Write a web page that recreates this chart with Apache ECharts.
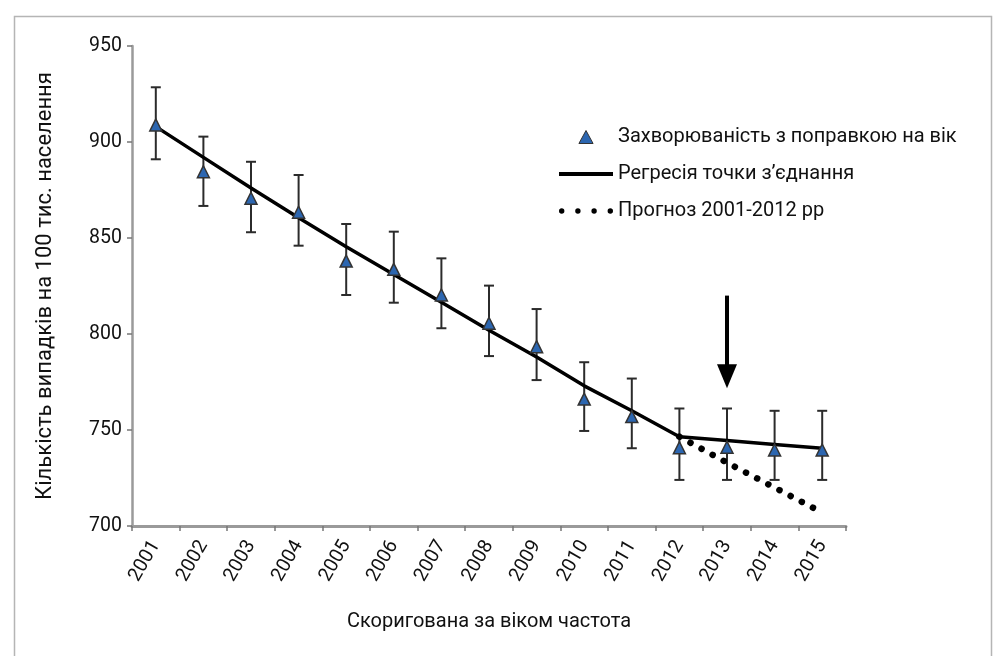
<!DOCTYPE html>
<html>
<head>
<meta charset="utf-8">
<script src="https://cdn.jsdelivr.net/npm/echarts@6/dist/echarts.min.js"></script>
<style>
html,body{margin:0;padding:0;background:#fff;}
#chart{width:995px;height:656px;}
</style>
</head>
<body>
<div id="chart"></div>
<script>
const years = ['2001','2002','2003','2004','2005','2006','2007','2008','2009','2010','2011','2012','2013','2014','2015'];
const incidence = [908.9, 884.5, 870.7, 863.4, 838, 833.7, 820.3, 805.6, 793.4, 766.1, 757, 740.8, 741, 739.6, 739.6];
const ciLow  = [891, 866.7, 853, 846, 820.3, 816.3, 803, 788.5, 776, 749.5, 740.5, 724, 724, 724, 724];
const ciHigh = [928.5, 902.8, 889.7, 882.8, 857.3, 853.3, 839.4, 825.2, 813, 785.3, 776.8, 761.2, 761.2, 760, 760];
const regression = [908, 892, 876, 860.5, 845.5, 831, 816.5, 802, 788, 773, 760, 746.5, 744.5, 742.5, 740.5];
const forecastYears = ['2012','2013','2014','2015'];
const forecast = [746.5, 733, 720, 707];
const arrowYear = '2013';
const arrowFrom = 820;
const arrowTo = 778;
const yTicks = [700, 750, 800, 850, 900, 950];

const nameInc = 'Захворюваність з поправкою на вік';
const nameReg = 'Регресія точки з’єднання';
const nameFc = 'Прогноз 2001-2012 рр';

const FONT = 'Roboto, "Noto Sans", sans-serif';
const chart = echarts.init(document.getElementById('chart'));

chart.setOption({
  animation: false,
  backgroundColor: '#fff',
  textStyle: { fontFamily: FONT },
  graphic: [{
    type: 'rect', left: 12, top: 14, silent: true,
    shape: { width: 977, height: 660 },
    style: { fill: 'none', stroke: '#b5b5b5', lineWidth: 1.5 }
  }],
  grid: { left: 132, right: 149, top: 46, bottom: 130 },
  legend: {
    orient: 'vertical', left: 554, top: 122,
    itemWidth: 54, itemHeight: 13, itemGap: 17,
    symbolKeepAspect: true,
    data: [
      { name: nameInc, icon: 'path://M6,0L12,11L0,11Z', itemStyle: { color: '#2c66b0', borderColor: '#333', borderWidth: 1 } },
      { name: nameReg, icon: 'path://M0,0H54V4H0Z', itemStyle: { color: '#000', borderWidth: 0 } },
      { name: nameFc, icon: 'path://M0,2.5a2.5,2.5 0 1,0 5,0a2.5,2.5 0 1,0 -5,0ZM15,2.5a2.5,2.5 0 1,0 5,0a2.5,2.5 0 1,0 -5,0ZM30,2.5a2.5,2.5 0 1,0 5,0a2.5,2.5 0 1,0 -5,0ZM45,2.5a2.5,2.5 0 1,0 5,0a2.5,2.5 0 1,0 -5,0Z', itemStyle: { color: '#000', borderWidth: 0 } }
    ],
    textStyle: { fontSize: 20, color: '#111', fontFamily: FONT }
  },
  xAxis: {
    type: 'category', data: years, boundaryGap: true,
    name: 'Скоригована за віком частота', nameLocation: 'middle', nameGap: 86,
    nameTextStyle: { fontSize: 20, color: '#111' },
    axisLine: { lineStyle: { color: '#9a9a9a', width: 3 } },
    axisTick: { show: true, length: 5, lineStyle: { color: '#777', width: 1.5 } },
    axisLabel: { rotate: 60, fontSize: 19.5, color: '#111', margin: 16 }
  },
  yAxis: {
    type: 'value', min: 700, max: 950, interval: 50,
    name: 'Кількість випадків на 100 тис. населення', nameLocation: 'middle', nameGap: 76,
    nameTextStyle: { fontSize: 22, color: '#111' },
    axisLine: { show: true, lineStyle: { color: '#9a9a9a', width: 2.5 } },
    axisTick: { show: true, length: 5, lineStyle: { color: '#777', width: 1.5 } },
    axisLabel: { fontSize: 19.5, color: '#111', margin: 10,
      formatter: v => yTicks.indexOf(v) >= 0 ? String(v) : '' },
    splitLine: { show: false }
  },
  series: [
    {
      name: 'ci', type: 'custom', z: 2,
      data: years.map((y, i) => [i, ciLow[i], ciHigh[i]]),
      renderItem: function (params, api) {
        const lo = api.coord([api.value(0), api.value(1)]);
        const hi = api.coord([api.value(0), api.value(2)]);
        const w = 5;
        const st = { stroke: '#2b2b2b', lineWidth: 2 };
        return { type: 'group', children: [
          { type: 'line', shape: { x1: lo[0], y1: lo[1], x2: hi[0], y2: hi[1] }, style: st },
          { type: 'line', shape: { x1: lo[0]-w, y1: lo[1], x2: lo[0]+w, y2: lo[1] }, style: st },
          { type: 'line', shape: { x1: hi[0]-w, y1: hi[1], x2: hi[0]+w, y2: hi[1] }, style: st }
        ]};
      }
    },
    {
      name: nameReg, type: 'line', z: 3, data: regression,
      symbol: 'none', smooth: false,
      lineStyle: { color: '#000', width: 3.5 },
      itemStyle: { color: '#000' },
      markLine: {
        silent: true, symbol: ['none', 'triangle'], symbolSize: [20, 24],
        label: { show: false },
        lineStyle: { color: '#000', width: 4, type: 'solid' },
        data: [[{ coord: [arrowYear, arrowFrom] }, { coord: [arrowYear, arrowTo] }]]
      }
    },
    {
      name: nameFc, type: 'line', z: 3,
      data: forecastYears.map((y, i) => [y, forecast[i]]),
      symbol: 'none',
      lineStyle: { color: '#000', width: 6.5, type: [0.1, 12.5], cap: 'round' },
      itemStyle: { color: '#000' }
    },
    {
      name: nameInc, type: 'scatter', z: 5, data: incidence,
      symbol: 'triangle', symbolSize: 12,
      itemStyle: { color: '#2c66b0', borderColor: '#333', borderWidth: 1.5, opacity: 1 }
    }
  ]
});
</script>
</body>
</html>
